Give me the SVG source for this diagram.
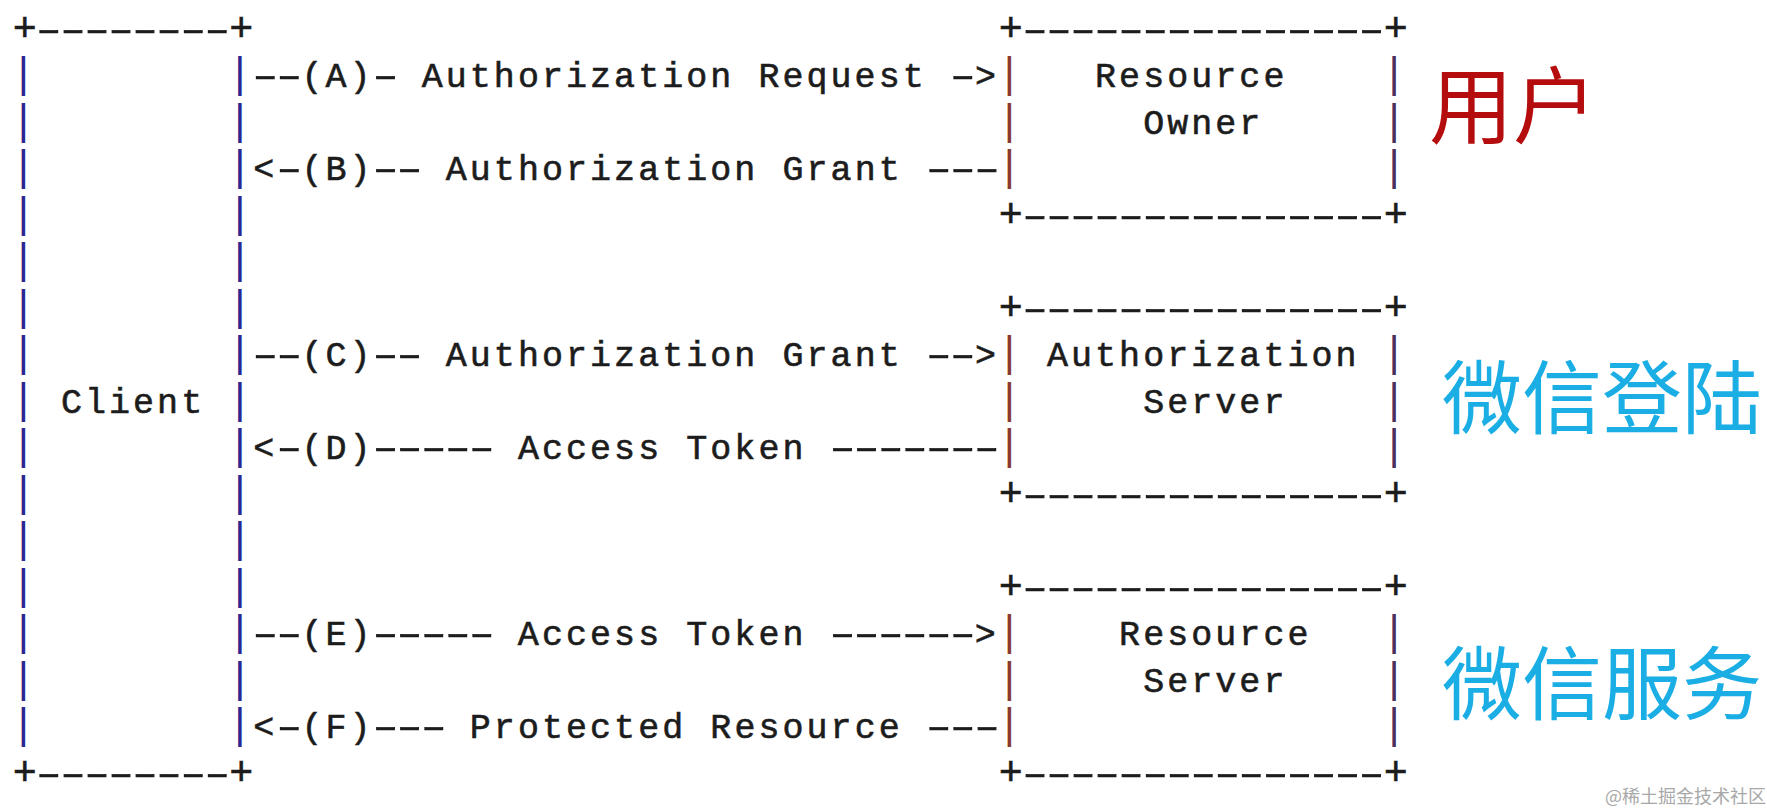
<svg xmlns="http://www.w3.org/2000/svg" width="1767" height="812" viewBox="0 0 1767 812" xml:space="preserve">
<style>
.t{font-family:"Liberation Mono","DejaVu Sans Mono",monospace;font-size:35px;letter-spacing:3.05px;fill:#1c1c1c;stroke:#1c1c1c;stroke-width:0.6px}
.dd{font-family:"Liberation Sans",Arial,sans-serif;letter-spacing:0px}
.p{font-size:40px;letter-spacing:0.05px}
.bar{font-family:"Liberation Mono","DejaVu Sans Mono",monospace;font-size:42px;text-anchor:middle}
.cb{fill:#2d2590}
.rl{fill:#8a3a2e}
.rr{fill:#4a2e5e}
.cjk{font-family:"Noto Sans CJK SC","Noto Sans",sans-serif;font-size:80px}
</style>
<rect width="1767" height="812" fill="#ffffff"/>
<g id="client">
<text class="t" x="12.8" y="40.5"><tspan class="p">+</tspan><tspan class="dd" textLength="192.4" lengthAdjust="spacingAndGlyphs">--------</tspan><tspan class="p">+</tspan></text>
<text class="t" x="12.8" y="784.5"><tspan class="p">+</tspan><tspan class="dd" textLength="192.4" lengthAdjust="spacingAndGlyphs">--------</tspan><tspan class="p">+</tspan></text>
<text class="t" x="60.9" y="412.5">Client</text>
<text class="bar cb"><tspan x="23.3" y="87">|</tspan><tspan x="23.3" y="133.5">|</tspan><tspan x="23.3" y="180">|</tspan><tspan x="23.3" y="226.5">|</tspan><tspan x="23.3" y="273">|</tspan><tspan x="23.3" y="319.5">|</tspan><tspan x="23.3" y="366">|</tspan><tspan x="23.3" y="412.5">|</tspan><tspan x="23.3" y="459">|</tspan><tspan x="23.3" y="505.5">|</tspan><tspan x="23.3" y="552">|</tspan><tspan x="23.3" y="598.5">|</tspan><tspan x="23.3" y="645">|</tspan><tspan x="23.3" y="691.5">|</tspan><tspan x="23.3" y="738">|</tspan></text>
<text class="bar cb"><tspan x="239.75" y="87">|</tspan><tspan x="239.75" y="133.5">|</tspan><tspan x="239.75" y="180">|</tspan><tspan x="239.75" y="226.5">|</tspan><tspan x="239.75" y="273">|</tspan><tspan x="239.75" y="319.5">|</tspan><tspan x="239.75" y="366">|</tspan><tspan x="239.75" y="412.5">|</tspan><tspan x="239.75" y="459">|</tspan><tspan x="239.75" y="505.5">|</tspan><tspan x="239.75" y="552">|</tspan><tspan x="239.75" y="598.5">|</tspan><tspan x="239.75" y="645">|</tspan><tspan x="239.75" y="691.5">|</tspan><tspan x="239.75" y="738">|</tspan></text>
</g>
<g id="resource-owner">
<text class="t" x="998.85" y="40.5"><tspan class="p">+</tspan><tspan class="dd" textLength="360.75" lengthAdjust="spacingAndGlyphs">---------------</tspan><tspan class="p">+</tspan></text>
<text class="t" x="998.85" y="226.5"><tspan class="p">+</tspan><tspan class="dd" textLength="360.75" lengthAdjust="spacingAndGlyphs">---------------</tspan><tspan class="p">+</tspan></text>
<text class="t" x="1095.05" y="87">Resource</text>
<text class="t" x="1143.15" y="133.5">Owner</text>
<text class="bar rl"><tspan x="1009.35" y="87">|</tspan><tspan x="1009.35" y="133.5">|</tspan><tspan x="1009.35" y="180">|</tspan></text>
<text class="bar rr"><tspan x="1394.15" y="87">|</tspan><tspan x="1394.15" y="133.5">|</tspan><tspan x="1394.15" y="180">|</tspan></text>
</g>
<g id="authorization-server">
<text class="t" x="998.85" y="319.5"><tspan class="p">+</tspan><tspan class="dd" textLength="360.75" lengthAdjust="spacingAndGlyphs">---------------</tspan><tspan class="p">+</tspan></text>
<text class="t" x="998.85" y="505.5"><tspan class="p">+</tspan><tspan class="dd" textLength="360.75" lengthAdjust="spacingAndGlyphs">---------------</tspan><tspan class="p">+</tspan></text>
<text class="t" x="1046.95" y="366">Authorization</text>
<text class="t" x="1143.15" y="412.5">Server</text>
<text class="bar rl"><tspan x="1009.35" y="366">|</tspan><tspan x="1009.35" y="412.5">|</tspan><tspan x="1009.35" y="459">|</tspan></text>
<text class="bar rr"><tspan x="1394.15" y="366">|</tspan><tspan x="1394.15" y="412.5">|</tspan><tspan x="1394.15" y="459">|</tspan></text>
</g>
<g id="resource-server">
<text class="t" x="998.85" y="598.5"><tspan class="p">+</tspan><tspan class="dd" textLength="360.75" lengthAdjust="spacingAndGlyphs">---------------</tspan><tspan class="p">+</tspan></text>
<text class="t" x="998.85" y="784.5"><tspan class="p">+</tspan><tspan class="dd" textLength="360.75" lengthAdjust="spacingAndGlyphs">---------------</tspan><tspan class="p">+</tspan></text>
<text class="t" x="1119.1" y="645">Resource</text>
<text class="t" x="1143.15" y="691.5">Server</text>
<text class="bar rl"><tspan x="1009.35" y="645">|</tspan><tspan x="1009.35" y="691.5">|</tspan><tspan x="1009.35" y="738">|</tspan></text>
<text class="bar rr"><tspan x="1394.15" y="645">|</tspan><tspan x="1394.15" y="691.5">|</tspan><tspan x="1394.15" y="738">|</tspan></text>
</g>
<g id="connectors">
<text class="t" x="253.3" y="87"><tspan class="dd" textLength="48.1" lengthAdjust="spacingAndGlyphs">--</tspan>(A)<tspan class="dd" textLength="24.05" lengthAdjust="spacingAndGlyphs">-</tspan> Authorization Request <tspan class="dd" textLength="24.05" lengthAdjust="spacingAndGlyphs">-</tspan>&gt;</text>
<text class="t" x="253.3" y="180">&lt;<tspan class="dd" textLength="24.05" lengthAdjust="spacingAndGlyphs">-</tspan>(B)<tspan class="dd" textLength="48.1" lengthAdjust="spacingAndGlyphs">--</tspan> Authorization Grant <tspan class="dd" textLength="72.15" lengthAdjust="spacingAndGlyphs">---</tspan></text>
<text class="t" x="253.3" y="366"><tspan class="dd" textLength="48.1" lengthAdjust="spacingAndGlyphs">--</tspan>(C)<tspan class="dd" textLength="48.1" lengthAdjust="spacingAndGlyphs">--</tspan> Authorization Grant <tspan class="dd" textLength="48.1" lengthAdjust="spacingAndGlyphs">--</tspan>&gt;</text>
<text class="t" x="253.3" y="459">&lt;<tspan class="dd" textLength="24.05" lengthAdjust="spacingAndGlyphs">-</tspan>(D)<tspan class="dd" textLength="120.25" lengthAdjust="spacingAndGlyphs">-----</tspan> Access Token <tspan class="dd" textLength="168.35" lengthAdjust="spacingAndGlyphs">-------</tspan></text>
<text class="t" x="253.3" y="645"><tspan class="dd" textLength="48.1" lengthAdjust="spacingAndGlyphs">--</tspan>(E)<tspan class="dd" textLength="120.25" lengthAdjust="spacingAndGlyphs">-----</tspan> Access Token <tspan class="dd" textLength="144.3" lengthAdjust="spacingAndGlyphs">------</tspan>&gt;</text>
<text class="t" x="253.3" y="738">&lt;<tspan class="dd" textLength="24.05" lengthAdjust="spacingAndGlyphs">-</tspan>(F)<tspan class="dd" textLength="72.15" lengthAdjust="spacingAndGlyphs">---</tspan> Protected Resource <tspan class="dd" textLength="72.15" lengthAdjust="spacingAndGlyphs">---</tspan></text>
</g>
<g id="labels">
<text class="cjk" x="1429" y="137" fill="#b50d0d" style="font-size:84px">用户</text>
<text class="cjk" x="1442" y="427" fill="#1aaee5">微信登陆</text>
<text class="cjk" x="1442" y="713" fill="#1aaee5">微信服务</text>
<text x="1605" y="803" font-family="Noto Sans CJK SC,Noto Sans,sans-serif" font-size="18" fill="#a8a8a8">@稀土掘金技术社区</text>
</g>
</svg>
